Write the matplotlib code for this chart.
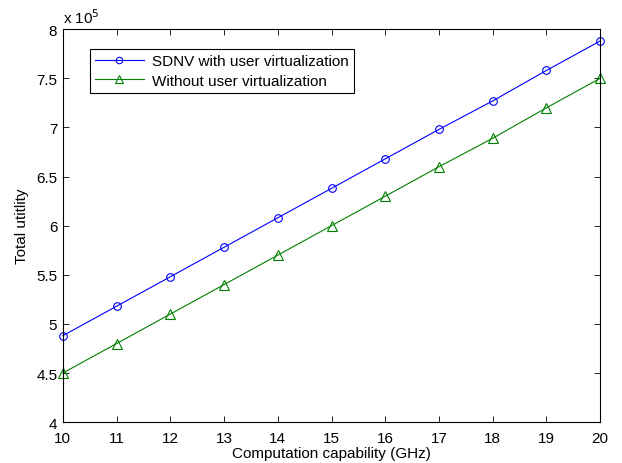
import matplotlib
matplotlib.use('Agg')
from matplotlib import pyplot as plt
from matplotlib.ticker import FuncFormatter

plt.rcParams['font.family'] = ['Liberation Sans', 'DejaVu Sans']

# Computation capability (GHz)
capability = [10, 11, 12, 13, 14, 15, 16, 17, 18, 19, 20]
# Total utility, in units of 1e5
with_virt = [4.88, 5.18, 5.48, 5.78, 6.08, 6.38, 6.68, 6.98, 7.27, 7.58, 7.88]
without_virt = [4.50, 4.80, 5.10, 5.40, 5.70, 6.00, 6.30, 6.60, 6.89, 7.20, 7.50]

fig = plt.figure(figsize=(6.22, 4.64), dpi=100)
ax = fig.add_axes([0.101, 0.088, 0.864, 0.847])

ax.plot(capability, with_virt, color='#0000ff', lw=0.8, marker='o', ms=5.5,
        mfc='none', mec='#0000ff', mew=0.8, label='SDNV with user virtualization', clip_on=False)
ax.plot(capability, without_virt, color='#008000', lw=0.8, marker='^', ms=6.5,
        mfc='none', mec='#008000', mew=0.8, label='Without user virtualization', clip_on=False)

ax.set_xlim(10, 20)
ax.set_ylim(4, 8)
ax.set_xticks(range(10, 21))
ax.set_yticks([4, 4.5, 5, 5.5, 6, 6.5, 7, 7.5, 8])
ax.yaxis.set_major_formatter(FuncFormatter(lambda v, p: '%g' % v))
ax.tick_params(direction='in', length=4, width=0.6, labelsize=11, top=True, right=True)
ax.tick_params(axis='x', pad=6)
ax.tick_params(axis='y', pad=4)
for s in ax.spines.values():
    s.set_linewidth(0.8)

ax.text(0.0, 1.008, r'x 10$^5$', transform=ax.transAxes, fontsize=11, ha='left', va='bottom')

ax.set_xlabel('Computation capability (GHz)', fontsize=11, labelpad=1)
ax.set_ylabel('Total utitlity', fontsize=11, labelpad=5)

leg = ax.legend(loc='upper left', bbox_to_anchor=(0.05, 0.95), fontsize=11, fancybox=False,
                framealpha=1, edgecolor='black', borderpad=0.35, handlelength=3.2,
                labelspacing=0.35, handletextpad=0.55, borderaxespad=0, markerscale=0.85)
leg.get_frame().set_linewidth(0.8)

plt.savefig('out.png')
